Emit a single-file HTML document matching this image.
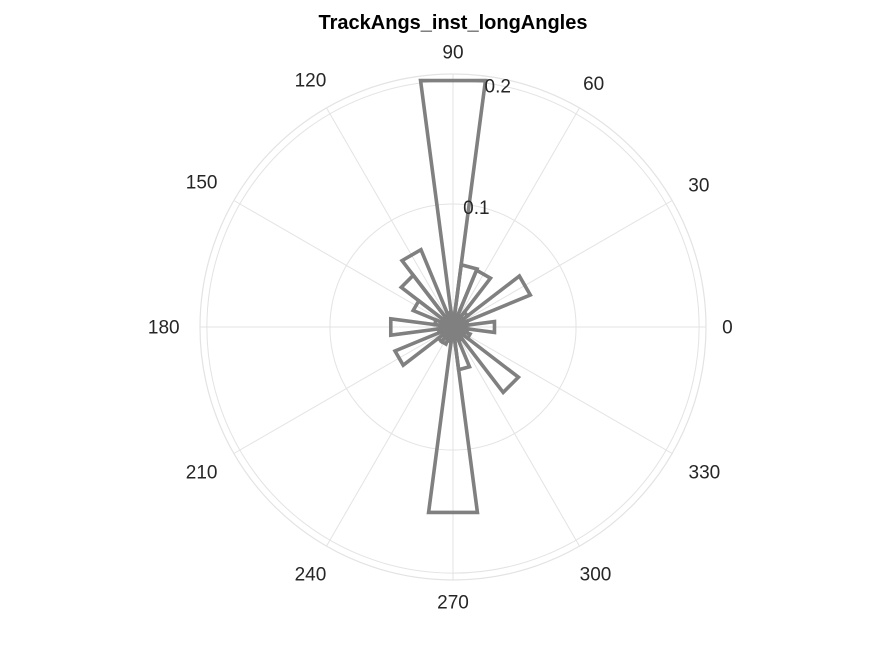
<!DOCTYPE html>
<html><head><meta charset="utf-8"><style>
body{margin:0;background:#fff;}
svg text{font-family:"Liberation Sans",Arial,sans-serif;}
</style></head><body>
<svg id="chart" width="875" height="656" viewBox="0 0 875 656" xmlns="http://www.w3.org/2000/svg">
<rect width="875" height="656" fill="#fff"/>
<text x="453" y="29" text-anchor="middle" font-size="20" font-weight="bold" fill="#000">TrackAngs_inst_longAngles</text>
<g id="grid"></g>
<g id="bars"></g>
<g id="labels"></g>
</svg>
<script>
const binCenters=[0,15,30,45,60,75,90,105,120,135,150,165,180,195,210,225,240,255,270,285,300,315,330,345];
const binValues=[0.034,0.012,0.068,0.015,0.05,0.051,0.202,0.012,0.068,0.053,0.035,0.015,0.051,0.012,0.051,0.015,0.015,0.012,0.152,0.035,0.012,0.067,0.015,0.012];
const rTicks=[0.1,0.2];
const rTickLabels=["0.1","0.2"];
const thetaTicks=[0,30,60,90,120,150,180,210,240,270,300,330];
const rMax=0.2056;
const binWidth=15;
const cx=453,cy=327,R=253;
const NS="http://www.w3.org/2000/svg";
function rScale(v){return v/rMax*R;}
function pt(deg,r){const a=deg*Math.PI/180;return [cx+r*Math.cos(a),cy-r*Math.sin(a)];}
const grid=document.getElementById('grid'),bars=document.getElementById('bars'),labels=document.getElementById('labels');
function mk(tag,attrs,parent){const e=document.createElementNS(NS,tag);for(const k in attrs)e.setAttribute(k,attrs[k]);parent.appendChild(e);return e;}
thetaTicks.forEach(t=>{
  const p=pt(t,R);
  const l=mk('line',{x1:cx,y1:cy,x2:p[0],y2:p[1],stroke:'#e3e3e3','stroke-width':1},grid);
  
  
  const s=String(t);
  const a=t*Math.PI/180;
  const off=14+s.length*5.3*Math.abs(Math.cos(a))*1.4+8*Math.abs(Math.sin(a));
  const q=pt(t,R+off);
  const tx=mk('text',{x:q[0],y:q[1]+6.5,'text-anchor':'middle','font-size':19,fill:'#262626'},labels);
  tx.textContent=s;
  
  
});
rTicks.forEach((v,i)=>{
  const c=mk('circle',{cx:cx,cy:cy,r:rScale(v),fill:'none',stroke:'#e3e3e3','stroke-width':1},grid);
  
  
  const q=pt(80,rScale(v));
  const tx=mk('text',{x:q[0]+2,y:q[1]+8,'text-anchor':'middle','font-size':19,fill:'#262626'},labels);
  tx.textContent=rTickLabels[i];
  
  
});
const outer=mk('circle',{cx:cx,cy:cy,r:R,fill:'none',stroke:'#e3e3e3','stroke-width':1.2},grid);


binCenters.forEach((c,i)=>{
  const r=rScale(binValues[i]);
  const a0=c-binWidth/2,a1=c+binWidth/2;
  const p0=pt(a0,r),p1=pt(a1,r);
  const d=`M${cx},${cy} L${p0[0]},${p0[1]} L${p1[0]},${p1[1]} Z`;
  const b=mk('path',{d:d,fill:'none',stroke:'#808080','stroke-width':3.6,'stroke-linejoin':'miter'},bars);
  
  
});
</script>
</body></html>
